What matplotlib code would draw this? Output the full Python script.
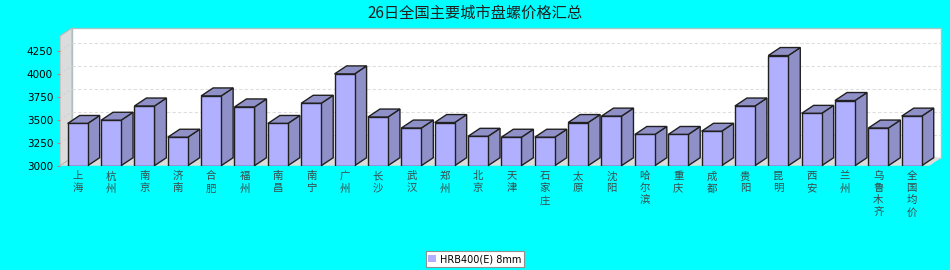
import numpy as np
import matplotlib
matplotlib.use("Agg")
import matplotlib.pyplot as plt
from matplotlib.patches import Polygon, Patch
from matplotlib.transforms import IdentityTransform

plt.rcParams['font.family'] = ['Noto Sans CJK SC', 'DejaVu Sans']

# data
cities = ['上海', '杭州', '南京', '济南', '合肥', '福州', '南昌', '南宁', '广州', '长沙',
          '武汉', '郑州', '北京', '天津', '石家庄', '太原', '沈阳', '哈尔滨', '重庆', '成都',
          '贵阳', '昆明', '西安', '兰州', '乌鲁木齐', '全国均价']
prices = [3460, 3495, 3650, 3310, 3760, 3640, 3460, 3680, 4000, 3530,
          3410, 3470, 3320, 3310, 3310, 3470, 3540, 3340, 3340, 3375,
          3650, 4200, 3570, 3710, 3410, 3540]
yticks = [3000, 3250, 3500, 3750, 4000, 4250]
series_name = 'HRB400(E) 8mm'
title = '26日全国主要城市盘螺价格汇总'

base = 3000
ymax = 4413
bar_w = 0.6
dx, dy = 12, 8          # depth offset in pixels
front = '#b0b0ff'
side = '#9090c8'
bg = '#00ffff'

fig = plt.figure(figsize=(9.5, 2.7), dpi=100, facecolor=bg)
ax = fig.add_axes([60 / 950, 104.3 / 270, 869.4 / 950, 129.7 / 270])
ax.set_facecolor('none')
x = np.arange(len(cities))
ax.set_xlim(-0.53, len(cities) - 0.47)
ax.set_ylim(base, ymax)

td = ax.transData
(x0, yb), (x1, yt) = td.transform([(ax.get_xlim()[0], base), (ax.get_xlim()[1], ymax)])
pix = IdentityTransform()

def poly(pts, fc, ec='none', lw=0, z=0):
    ax.add_patch(Polygon(pts, closed=True, facecolor=fc, edgecolor=ec, linewidth=lw,
                         transform=pix, clip_on=False, zorder=z))

# back wall, floor, left wall
poly([(x0 + dx, yb + dy), (x1 + dx, yb + dy), (x1 + dx, yt + dy), (x0 + dx, yt + dy)],
     'white', '#a0c8c8', 1, 0)
poly([(x0, yb), (x1, yb), (x1 + dx, yb + dy), (x0 + dx, yb + dy)], '#dcdcdc', z=0.5)
poly([(x0, yb), (x0, yt), (x0 + dx, yt + dy), (x0 + dx, yb + dy)], '#dcdcdc', '#b8b8b8', 0.8, 0.5)

# grid lines on the back wall
for v in yticks[1:]:
    yy = td.transform((0, v))[1]
    ax.add_line(plt.Line2D([x0 + dx, x1 + dx], [yy + dy, yy + dy], transform=pix,
                           color='#dedede', lw=0.8, ls=(0, (3, 2)), zorder=0.6, clip_on=False))
    ax.add_line(plt.Line2D([x0, x0 + dx], [yy, yy + dy], transform=pix,
                           color='#d0d0d0', lw=0.8, ls=(0, (2, 2)), zorder=0.6, clip_on=False))

# bars: front faces through ax.bar, sides and tops from the same values
heights = np.array(prices) - base
ax.bar(x, heights, bottom=base, width=bar_w, color=front, edgecolor='#202020',
       linewidth=1, zorder=3)
for xi, v in zip(x, prices):
    (bl, bb), (br, bt) = td.transform([(xi - bar_w / 2, base), (xi + bar_w / 2, v)])
    poly([(br, bb), (br, bt), (br + dx, bt + dy), (br + dx, bb + dy)], side, '#202020', 1, 2)
    poly([(bl, bt), (br, bt), (br + dx, bt + dy), (bl + dx, bt + dy)], side, '#202020', 1, 2)

for s in ['top', 'right', 'bottom', 'left']:
    ax.spines[s].set_visible(False)
ax.set_yticks(yticks)
ax.tick_params(axis='y', length=2, width=0.8, color='#c08080', pad=3, labelsize=7.5,
               labelcolor='black')
ax.set_yticklabels([str(t) for t in yticks], family='DejaVu Sans')
ax.set_xticks(x)
ax.set_xticklabels(['\n'.join(c) for c in cities], fontsize=7.5, color='#3a4a4a',
                   linespacing=1.25, va='top')
ax.tick_params(axis='x', length=0, pad=4)

fig.text(0.5, 1 - 13 / 270, title, ha='center', va='center', fontsize=11, color='#202020')

leg = fig.legend(handles=[Patch(facecolor=front, edgecolor='none', label=series_name)],
                 loc='center', bbox_to_anchor=(475 / 950, 1 - 259 / 270), ncol=1,
                 fancybox=False, framealpha=1, edgecolor='#909090', fontsize=7,
                 handlelength=0.8, handleheight=0.8, handletextpad=0.4, borderpad=0.3,
                 borderaxespad=0)
leg.get_frame().set_linewidth(0.8)
for t in leg.get_texts():
    t.set_family('DejaVu Sans')

fig.savefig('out.png', dpi=100, facecolor=bg)
